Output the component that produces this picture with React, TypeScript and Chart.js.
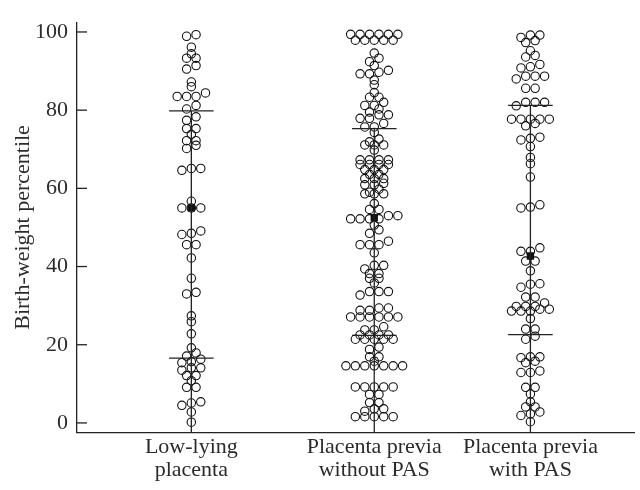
import React, { useEffect, useRef } from 'react';
import { Chart, registerables } from 'chart.js';

Chart.register(...registerables);

// ---------- data ----------
const CATEGORIES: string[][] = [
  ['Low-lying', 'placenta'],
  ['Placenta previa', 'without PAS'],
  ['Placenta previa', 'with PAS'],
];
const CATEGORY_POS = [2.05, 5.33, 8.13];

const LOW_LYING = [
  99.3, 98.9, 96.1, 94.4, 93.3, 93.3, 91.4, 90.5, 87.2, 86.0, 84.4, 83.5, 83.5, 83.5,
  81.2, 80.3, 78.3, 77.4, 75.3, 75.3, 73.8, 72.2, 72.2, 71.0, 70.2, 65.1, 65.1, 64.6,
  56.7, 55, 55, 55, 49.1, 48.5, 48.2, 45.6, 45.6, 42.2, 37.0, 33.4, 33.0, 27.4, 25.9,
  22.8, 19.2, 17.9, 17.1, 16.3, 15.7, 15.4, 14.1, 14.1, 13.5, 12.1, 12.1, 10.8, 9.1,
  9.1, 5.4, 5.1, 4.5, 2.8, 0.2,
];

const PREVIA_NO_PAS = [
  99.4, 99.4, 99.4, 99.4, 99.4, 99.4, 97.9, 97.9, 97.9, 97.9, 97.9,
  94.6, 93.3, 92.4, 91.4, 90.2, 89.7, 89.3, 89.3, 87.7, 86.5, 84.5, 83.3, 83.3,
  82.0, 81.2, 81.2, 80.3, 79.5, 78.8, 78.8, 77.9, 77.9, 76.6, 75.7, 75.7,
  74.3, 72.6, 71.9, 71.1, 71.1, 71.1, 69.8, 67.3, 67.3, 67.3, 67.3, 66.1, 66.1, 66.1, 66.1,
  64.8, 64.8, 64.8, 63.6, 63.6, 62.5, 62.5, 62.5, 61.3, 60.9, 60.9, 59.8, 59.0,
  58.6, 58.6, 58.6, 56.1, 54.6, 54.6, 53.0, 53.0, 52.2, 52.2, 52.2, 52.2,
  50.6, 49.4, 48.5, 46.5, 45.6, 45.6, 45.6, 43.5, 40.3, 40.3, 39.4, 38.2, 38.2,
  37.0, 37.0, 35.8, 33.6, 33.6, 33.6, 32.7, 29.4, 29.4, 28.8, 28.8,
  27.1, 27.1, 27.1, 27.1, 27.1, 27.1, 24.6, 23.8, 23.8,
  22.5, 22.5, 22.5, 22.5, 21.4, 21.4, 21.4, 21.4, 21.4, 19.4, 18.8, 16.9, 16.9, 15.8,
  14.6, 14.6, 14.6, 14.6, 14.6, 14.6, 14.6, 9.2, 9.2, 9.2, 9.2, 9.2, 7.3, 7.3,
  5.2, 5.2, 3.6, 3.6, 3.0, 1.6, 1.6, 1.6, 1.6, 1.6,
];

const PREVIA_PAS = [
  99.2, 99.2, 98.6, 97.8, 97.3, 95.2, 94.0, 93.6, 91.7, 91.1, 90.8, 88.7, 88.7, 88.7,
  88.0, 85.6, 85.6, 82.0, 82.0, 82.0, 81.1, 77.7, 77.7, 77.7, 77.7, 77.7, 76.6, 76.0,
  73.1, 72.8, 72.4, 70.7, 67.9, 66.3, 62.9, 55.8, 55.2, 55.0, 44.8, 43.9, 43.9, 41.4,
  41.4, 38.9, 35.6, 35.5, 34.7, 32.2, 32.2, 30.7, 29.8, 29.8, 29.8, 29.1, 29.1, 28.6,
  28.6, 28.6, 26.7, 24.0, 24.0, 22.2, 21.4, 16.9, 16.9, 16.7, 15.8, 15.4, 13.3, 12.9,
  12.9, 9.1, 9.1, 7.4, 5.4, 4.1, 4.1, 2.8, 2.3, 1.9, 0.3,
];

const SERIES = [LOW_LYING, PREVIA_NO_PAS, PREVIA_PAS];
const MEDIANS = [55, 52.5, 42.7];
const Q1 = [16.6, 22.4, 22.6];
const Q3 = [79.8, 75.3, 81.2];

const Y_TICKS = [0, 20, 40, 60, 80, 100];
const Y_MIN = -2.5;
const Y_MAX = 102.5;
const X_MIN = 0;
const X_MAX = 10;

// ---------- layout / style ----------
const WIDTH = 640;
const HEIGHT = 490;
const Y_AXIS_W = 77;
const X_AXIS_H = 57.3;
const TOP_PAD = 15;
const PX_PER_X = (WIDTH - Y_AXIS_W) / (X_MAX - X_MIN);
const DOT_UNIT = 4.77 / PX_PER_X; // half a dot diameter, in x units
const BAR_HALF = 22.5 / PX_PER_X;
const ROW_TOL = 1.0;

const INK = '#222';
const TEXT = '#2b2b2b';
const FONT = { family: "'Liberation Serif', 'Times New Roman', serif", size: 22 };

// Simple row-based swarm arrangement (points close in value share a row, centred)
function swarmOffsets(values: number[]): number[] {
  const order = values.map((_, i) => i).sort((a, b) => values[b] - values[a]);
  const rows: number[][] = [];
  let cur: number[] = [];
  let top = NaN;
  for (const i of order) {
    if (cur.length && top - values[i] <= ROW_TOL + 1e-9) {
      cur.push(i);
    } else {
      if (cur.length) rows.push(cur);
      cur = [i];
      top = values[i];
    }
  }
  if (cur.length) rows.push(cur);
  const off = new Array(values.length).fill(0);
  rows.forEach((row) => {
    const sorted = row.slice().sort((a, b) => values[a] - values[b]);
    const n = sorted.length;
    sorted.forEach((idx, k) => {
      off[idx] = 2 * k - (n - 1);
    });
  });
  return off;
}

const innerTicks = {
  id: 'innerTicks',
  afterDraw(chart: any) {
    const y = chart.scales.y;
    const ctx = chart.ctx;
    ctx.save();
    ctx.strokeStyle = INK;
    ctx.lineWidth = 1.3;
    y.ticks.forEach((t: any) => {
      const py = y.getPixelForValue(t.value);
      ctx.beginPath();
      ctx.moveTo(y.right, py);
      ctx.lineTo(y.right + 10, py);
      ctx.stroke();
    });
    ctx.restore();
  },
};

export default function App() {
  const ref = useRef<HTMLCanvasElement | null>(null);

  useEffect(() => {
    if (!ref.current) return;
    const datasets: any[] = [];

    SERIES.forEach((vals, c) => {
      const pos = CATEGORY_POS[c];
      const lineBase = {
        showLine: true,
        borderColor: INK,
        borderWidth: 1.3,
        pointRadius: 0,
        fill: false,
      };
      datasets.push({ ...lineBase, data: [{ x: pos, y: Q3[c] }, { x: pos, y: Y_MIN }] });
      datasets.push({ ...lineBase, data: [{ x: pos - BAR_HALF, y: Q3[c] }, { x: pos + BAR_HALF, y: Q3[c] }] });
      datasets.push({ ...lineBase, data: [{ x: pos - BAR_HALF, y: Q1[c] }, { x: pos + BAR_HALF, y: Q1[c] }] });
    });

    SERIES.forEach((vals, c) => {
      const pos = CATEGORY_POS[c];
      const off = swarmOffsets(vals);
      datasets.push({
        data: vals.map((v, i) => ({ x: pos + off[i] * DOT_UNIT, y: v })),
        pointStyle: 'circle',
        pointRadius: 4.2,
        pointBorderWidth: 1.1,
        pointBorderColor: '#111',
        pointBackgroundColor: 'rgba(0,0,0,0)',
        showLine: false,
        clip: false,
      });
    });

    datasets.push({
      data: MEDIANS.map((m, c) => ({ x: CATEGORY_POS[c], y: m })),
      pointStyle: 'rect',
      pointRadius: 5.2,
      pointBorderWidth: 0,
      pointBackgroundColor: '#111',
      showLine: false,
    });

    const chart = new Chart(ref.current, {
      type: 'scatter',
      data: { datasets },
      plugins: [innerTicks],
      options: {
        responsive: false,
        maintainAspectRatio: false,
        animation: false,
        layout: { padding: { top: TOP_PAD, left: 0, right: 0, bottom: 0 } },
        plugins: { legend: { display: false }, tooltip: { enabled: false } },
        scales: {
          x: {
            type: 'linear',
            min: X_MIN,
            max: X_MAX,
            afterBuildTicks: (s: any) => {
              s.ticks = CATEGORY_POS.map((v) => ({ value: v }));
            },
            afterFit: (s: any) => {
              s.height = X_AXIS_H;
            },
            grid: { display: false, drawTicks: false },
            border: { display: true, color: INK, width: 1.3 },
            ticks: {
              autoSkip: false,
              maxRotation: 0,
              padding: 3,
              color: TEXT,
              font: { ...FONT, lineHeight: 1.05 },
              callback: (_v: any, i: number) => CATEGORIES[i],
            },
          },
          y: {
            type: 'linear',
            min: Y_MIN,
            max: Y_MAX,
            afterBuildTicks: (s: any) => {
              s.ticks = Y_TICKS.map((v) => ({ value: v }));
            },
            afterFit: (s: any) => {
              s.width = Y_AXIS_W;
            },
            grid: { display: false, drawTicks: false },
            border: { display: true, color: INK, width: 1.3 },
            ticks: { padding: 9, color: TEXT, font: FONT },
            title: {
              display: true,
              text: 'Birth-weight percentile',
              color: TEXT,
              font: FONT,
              padding: { top: 10, bottom: 0 },
            },
          },
        },
      } as any,
    });
    return () => chart.destroy();
  }, []);

  return (
    <div style={{ position: 'absolute', left: 0, top: 0, width: WIDTH, height: HEIGHT, background: '#fff' }}>
      <canvas ref={ref} width={WIDTH} height={HEIGHT} style={{ display: 'block' }} />
    </div>
  );
}
